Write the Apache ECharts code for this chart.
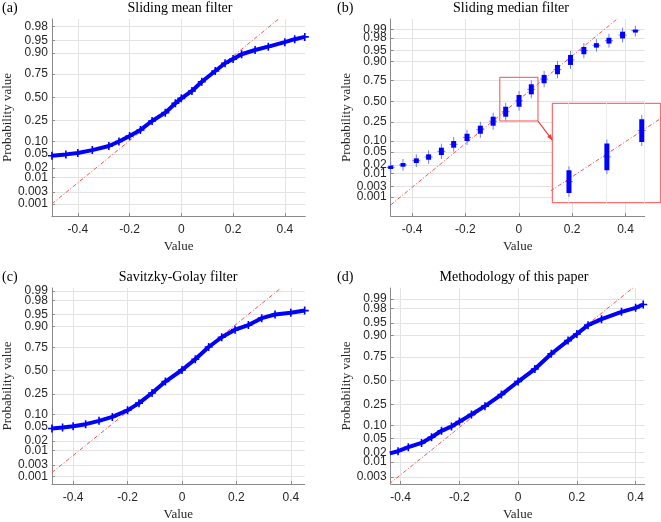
<!DOCTYPE html>
<html>
<head>
<meta charset="utf-8">
<script src="https://cdn.jsdelivr.net/npm/echarts@6/dist/echarts.min.js"></script>
<style>
  html, body { margin: 0; padding: 0; background: #fff; }
  #main { width: 661px; height: 522px; }
</style>
</head>
<body>
<div id="main"></div>
<script>
// tick labels
var probTicks = [0.001, 0.003, 0.01, 0.02, 0.05, 0.10, 0.25, 0.50, 0.75, 0.90, 0.95, 0.98, 0.99];
var probTickText = ['0.001', '0.003', '0.01', '0.02', '0.05', '0.10', '0.25', '0.50', '0.75', '0.90', '0.95', '0.98', '0.99'];
var valueTicks = [-0.4, -0.2, 0, 0.2, 0.4];

// (a) sliding mean filter
var meanX = [-0.5, -0.446, -0.4, -0.344, -0.28, -0.241, -0.2, -0.158, -0.113, -0.062, -0.023, 0, 0.041, 0.079, 0.131, 0.169, 0.2, 0.233, 0.285, 0.336, 0.4, 0.438, 0.477];
var meanP = [0.045, 0.049, 0.053, 0.063, 0.079, 0.10, 0.131, 0.172, 0.246, 0.328, 0.431, 0.488, 0.573, 0.674, 0.777, 0.838, 0.866, 0.894, 0.915, 0.929, 0.945, 0.954, 0.96];
var meanRefX = [-0.5, 0.374];
var meanRefP = [0.001, 0.988];

// (b) sliding median filter: clusters (x, low prob, high prob)
var medianX = [-0.48, -0.434, -0.384, -0.338, -0.29, -0.244, -0.194, -0.144, -0.096, -0.049, 0.001, 0.047, 0.095, 0.145, 0.194, 0.244, 0.291, 0.338, 0.389, 0.437];
var medianLow = [0.0143, 0.0172, 0.0229, 0.0294, 0.0411, 0.0668, 0.0994, 0.147, 0.215, 0.309, 0.430, 0.589, 0.72, 0.809, 0.880, 0.936, 0.9586, 0.969, 0.979, 0.9878];
var medianHigh = [0.0186, 0.0229, 0.0325, 0.0432, 0.0668, 0.0994, 0.147, 0.215, 0.309, 0.430, 0.581, 0.709, 0.803, 0.880, 0.933, 0.9605, 0.970, 0.980, 0.9878, 0.9898];
var medianRefX = [-0.48, 0.366];
var medianRefP = [0.0004, 0.9959];
var insetX = [-0.071, 0.072];
var insetP = [0.262, 0.781];

// (c) Savitzky-Golay filter
var sgX = [-0.478, -0.439, -0.4, -0.354, -0.305, -0.256, -0.2, -0.158, -0.110, -0.061, 0, 0.049, 0.098, 0.146, 0.195, 0.244, 0.293, 0.342, 0.4, 0.451];
var sgP = [0.046, 0.049, 0.053, 0.0595, 0.072, 0.089, 0.124, 0.172, 0.258, 0.376, 0.508, 0.631, 0.755, 0.835, 0.884, 0.908, 0.937, 0.949, 0.954, 0.96];
var sgRefX = [-0.478, 0.36];
var sgRefP = [0.0015, 0.9914];

// (d) methodology of this paper
var oursX = [-0.437, -0.409, -0.374, -0.329, -0.295, -0.261, -0.227, -0.2, -0.159, -0.113, -0.057, 0, 0.057, 0.113, 0.170, 0.2, 0.238, 0.284, 0.352, 0.4, 0.426];
var oursP = [0.019, 0.022, 0.0287, 0.0377, 0.053, 0.076, 0.095, 0.121, 0.167, 0.233, 0.345, 0.489, 0.629, 0.778, 0.873, 0.908, 0.943, 0.96, 0.975, 0.981, 0.985];
var oursRefX = [-0.439, 0.391];
var oursRefP = [0.0016, 0.9959];

// axis limits (value, probability)
var xLims = [[-0.5, 0.479], [-0.48, 0.472], [-0.478, 0.451], [-0.434, 0.431]];
var pLims = [[0.00029, 0.9884], [0.000104, 0.9961], [0.00048, 0.992], [0.00159, 0.99586]];

// inverse normal cdf (Acklam), for the probability scale
function norminv(p) {
    var a = [-3.969683028665376e+01, 2.209460984245205e+02, -2.759285104469687e+02, 1.383577518672690e+02, -3.066479806614716e+01, 2.506628277459239e+00];
    var b = [-5.447609879822406e+01, 1.615858368580409e+02, -1.556989798598866e+02, 6.680131188771972e+01, -1.328068155288572e+01];
    var c = [-7.784894002430293e-03, -3.223964580411365e-01, -2.400758277161838e+00, -2.549732539343734e+00, 4.374664141464968e+00, 2.938163982698783e+00];
    var d = [7.784695709041462e-03, 3.224671290700398e-01, 2.445134137142996e+00, 3.754408661907416e+00];
    var pl = 0.02425, q, r;
    if (p < pl) {
        q = Math.sqrt(-2 * Math.log(p));
        return (((((c[0] * q + c[1]) * q + c[2]) * q + c[3]) * q + c[4]) * q + c[5]) / ((((d[0] * q + d[1]) * q + d[2]) * q + d[3]) * q + 1);
    }
    if (p > 1 - pl) {
        q = Math.sqrt(-2 * Math.log(1 - p));
        return -(((((c[0] * q + c[1]) * q + c[2]) * q + c[3]) * q + c[4]) * q + c[5]) / ((((d[0] * q + d[1]) * q + d[2]) * q + d[3]) * q + 1);
    }
    q = p - 0.5;
    r = q * q;
    return (((((a[0] * r + a[1]) * r + a[2]) * r + a[3]) * r + a[4]) * r + a[5]) * q / (((((b[0] * r + b[1]) * r + b[2]) * r + b[3]) * r + b[4]) * r + 1);
}

function pairs(xs, ps) {
    return xs.map(function (x, i) { return [x, norminv(ps[i])]; });
}

var SERIF = 'Liberation Serif';
var SANS = 'Liberation Sans';
var TXT = '#262626';
var BLUE = '#0000ff';
var GRIDC = '#e3e3e3';
var AXC = '#8a8a8a';

var tickZ = probTicks.map(norminv);

function probLabel(v) {
    for (var k = 0; k < tickZ.length; k++) {
        if (Math.abs(tickZ[k] - v) < 1e-6) return probTickText[k];
    }
    return '';
}

function xAxisFor(i) {
    return {
        type: 'value', gridIndex: i, min: xLims[i][0], max: xLims[i][1],
        name: 'Value', nameLocation: 'middle', nameGap: 24,
        nameTextStyle: { fontFamily: SERIF, fontSize: 13, color: TXT },
        axisLine: { onZero: false, lineStyle: { color: AXC } },
        axisTick: { inside: true, length: 3, customValues: valueTicks, lineStyle: { color: AXC } },
        axisLabel: { customValues: valueTicks, margin: 8, fontFamily: SANS, fontSize: 12, color: TXT,
            formatter: function (v) { return String(Math.round(v * 10) / 10); } },
        splitLine: { show: true, lineStyle: { color: GRIDC } }
    };
}

function yTickVals(i) {
    var lo = norminv(pLims[i][0]), hi = norminv(pLims[i][1]);
    return tickZ.filter(function (z) { return z >= lo && z <= hi; });
}

// main y axis: line, ticks, grid and every other label
function yAxisFor(i) {
    var vals = yTickVals(i);
    return {
        type: 'value', gridIndex: i, min: norminv(pLims[i][0]), max: norminv(pLims[i][1]),
        name: 'Probability value', nameLocation: 'middle', nameGap: 37,
        nameTextStyle: { fontFamily: SERIF, fontSize: 13, color: TXT },
        axisLine: { onZero: false, lineStyle: { color: AXC } },
        axisTick: { inside: true, length: 3, customValues: vals, lineStyle: { color: AXC } },
        axisLabel: { customValues: vals.filter(function (v, k) { return k % 2 === 0; }),
            margin: 4, fontFamily: SANS, fontSize: 12, color: TXT, formatter: probLabel },
        splitLine: { show: true, lineStyle: { color: GRIDC } }
    };
}

// second y axis on the same side, only carrying the other labels (so none get dropped)
function yLabelAxisFor(i) {
    var vals = yTickVals(i);
    return {
        type: 'value', gridIndex: i, position: 'left', offset: 0,
        min: norminv(pLims[i][0]), max: norminv(pLims[i][1]),
        axisLine: { show: false, onZero: false }, axisTick: { show: false },
        axisLabel: { customValues: vals.filter(function (v, k) { return k % 2 === 1; }),
            margin: 4, fontFamily: SANS, fontSize: 12, color: TXT, formatter: probLabel },
        splitLine: { show: false }
    };
}

var plusSymbol = 'path://M4,0h2v4h4v2h-4v4h-2v-4h-4v-2h4z';

function curveSeries(i, xs, ps) {
    return {
        type: 'line', xAxisIndex: i, yAxisIndex: i, z: 3,
        data: pairs(xs, ps),
        symbol: plusSymbol, symbolSize: 8, showSymbol: true,
        itemStyle: { color: BLUE },
        lineStyle: { color: BLUE, width: 4 }
    };
}

function refSeries(i, xs, ps, extra) {
    var s = {
        type: 'line', xAxisIndex: i, yAxisIndex: i, z: 2,
        data: pairs(xs, ps), symbol: 'none',
        lineStyle: { color: '#ff5050', width: 1, type: [4, 2, 1, 2] }
    };
    for (var k in extra) s[k] = extra[k];
    return s;
}

function clusterItem(params, api) {
    var top = api.coord([api.value(0), api.value(2)]);
    var bot = api.coord([api.value(0), api.value(1)]);
    var mid = (top[1] + bot[1]) / 2;
    var h = Math.max(bot[1] - top[1], 3);
    return {
        type: 'group',
        children: [
            { type: 'line', shape: { x1: top[0], y1: top[1] - 4, x2: top[0], y2: top[1] + h + 4 }, style: { stroke: '#6f7dff', lineWidth: 1 } },
            { type: 'line', shape: { x1: top[0] - 4, y1: mid, x2: top[0] + 4, y2: mid }, style: { stroke: '#6f7dff', lineWidth: 1 } },
            { type: 'rect', shape: { x: top[0] - 2.5, y: top[1], width: 5, height: h }, style: { fill: BLUE } }
        ]
    };
}

var clusterData = medianX.map(function (x, i) {
    return [x, norminv(medianLow[i]), norminv(medianHigh[i])];
});

var titleStyle = { fontFamily: SERIF, fontSize: 14, fontWeight: 'normal', color: '#000' };

function title(text, left, top, align) {
    return { text: text, left: left, top: top, textAlign: align, padding: 0, textStyle: titleStyle };
}

var insetAxisX = {
    type: 'value', gridIndex: 4, min: insetX[0], max: insetX[1], z: 6,
    axisLine: { show: false }, axisTick: { show: false, customValues: [-0.05, 0, 0.05] },
    axisLabel: { show: false, customValues: [-0.05, 0, 0.05] },
    splitLine: { show: true, lineStyle: { color: '#ececec' } }
};
var insetAxisY = {
    type: 'value', gridIndex: 4, min: norminv(insetP[0]), max: norminv(insetP[1]), z: 6,
    axisLine: { show: false }, axisTick: { show: false }, axisLabel: { show: false },
    splitLine: { show: false }
};

var chart = echarts.init(document.getElementById('main'));
chart.setOption({
    animation: false,
    title: [
        title('(a)', 2, 1, 'left'),
        title('Sliding mean filter', 180, 1, 'center'),
        title('(b)', 337, 1, 'left'),
        title('Sliding median filter', 511, 1, 'center'),
        title('(c)', 2, 270, 'left'),
        title('Savitzky-Golay filter', 178, 270, 'center'),
        title('(d)', 337, 270, 'left'),
        title('Methodology of this paper', 514, 270, 'center')
    ],
    grid: [
        { left: 50.7, top: 19, width: 254.6, height: 197 },
        { left: 390.7, top: 19, width: 254, height: 197 },
        { left: 50.7, top: 288, width: 254, height: 199 },
        { left: 390.7, top: 288, width: 254, height: 199 },
        { left: 552.3, top: 103.3, width: 108.4, height: 99.4, show: true, z: 5,
          backgroundColor: '#fff', borderColor: '#ff4a4a', borderWidth: 1 }
    ],
    xAxis: [xAxisFor(0), xAxisFor(1), xAxisFor(2), xAxisFor(3), insetAxisX],
    yAxis: [yAxisFor(0), yAxisFor(1), yAxisFor(2), yAxisFor(3), insetAxisY,
        yLabelAxisFor(0), yLabelAxisFor(1), yLabelAxisFor(2), yLabelAxisFor(3)],
    series: [
        refSeries(0, meanRefX, meanRefP),
        curveSeries(0, meanX, meanP),
        refSeries(1, medianRefX, medianRefP, {
            markArea: {
                silent: true,
                itemStyle: { color: 'rgba(0,0,0,0)', borderColor: '#ff4a4a', borderWidth: 1 },
                data: [[{ coord: [insetX[0], norminv(insetP[1])] }, { coord: [insetX[1], norminv(insetP[0])] }]]
            }
        }),
        { type: 'custom', xAxisIndex: 1, yAxisIndex: 1, z: 3, data: clusterData, renderItem: clusterItem },
        refSeries(2, sgRefX, sgRefP),
        curveSeries(2, sgX, sgP),
        refSeries(3, oursRefX, oursRefP),
        curveSeries(3, oursX, oursP),
        refSeries(4, medianRefX, medianRefP, { z: 7 }),
        { type: 'custom', xAxisIndex: 4, yAxisIndex: 4, z: 8, clip: true, data: clusterData, renderItem: clusterItem }
    ]
});

// arrow from the small box to the zoomed inset
var p1 = chart.convertToPixel({ gridIndex: 1 }, [insetX[1], norminv(insetP[0])]);
var p2 = chart.convertToPixel({ gridIndex: 4 }, [insetX[0], norminv(0.6)]);
var ang = Math.atan2(p2[1] - p1[1], p2[0] - p1[0]);
var len = 6;
var tip = p2;
var lA = [tip[0] - len * Math.cos(ang - 0.4), tip[1] - len * Math.sin(ang - 0.4)];
var lB = [tip[0] - len * Math.cos(ang + 0.4), tip[1] - len * Math.sin(ang + 0.4)];
chart.setOption({
    graphic: [
        { type: 'line', z: 10, shape: { x1: p1[0], y1: p1[1], x2: tip[0], y2: tip[1] }, style: { stroke: '#ff3030', lineWidth: 1.2 } },
        { type: 'polygon', z: 10, shape: { points: [tip, lA, lB] }, style: { fill: '#ff3030' } }
    ]
});
</script>
</body>
</html>
